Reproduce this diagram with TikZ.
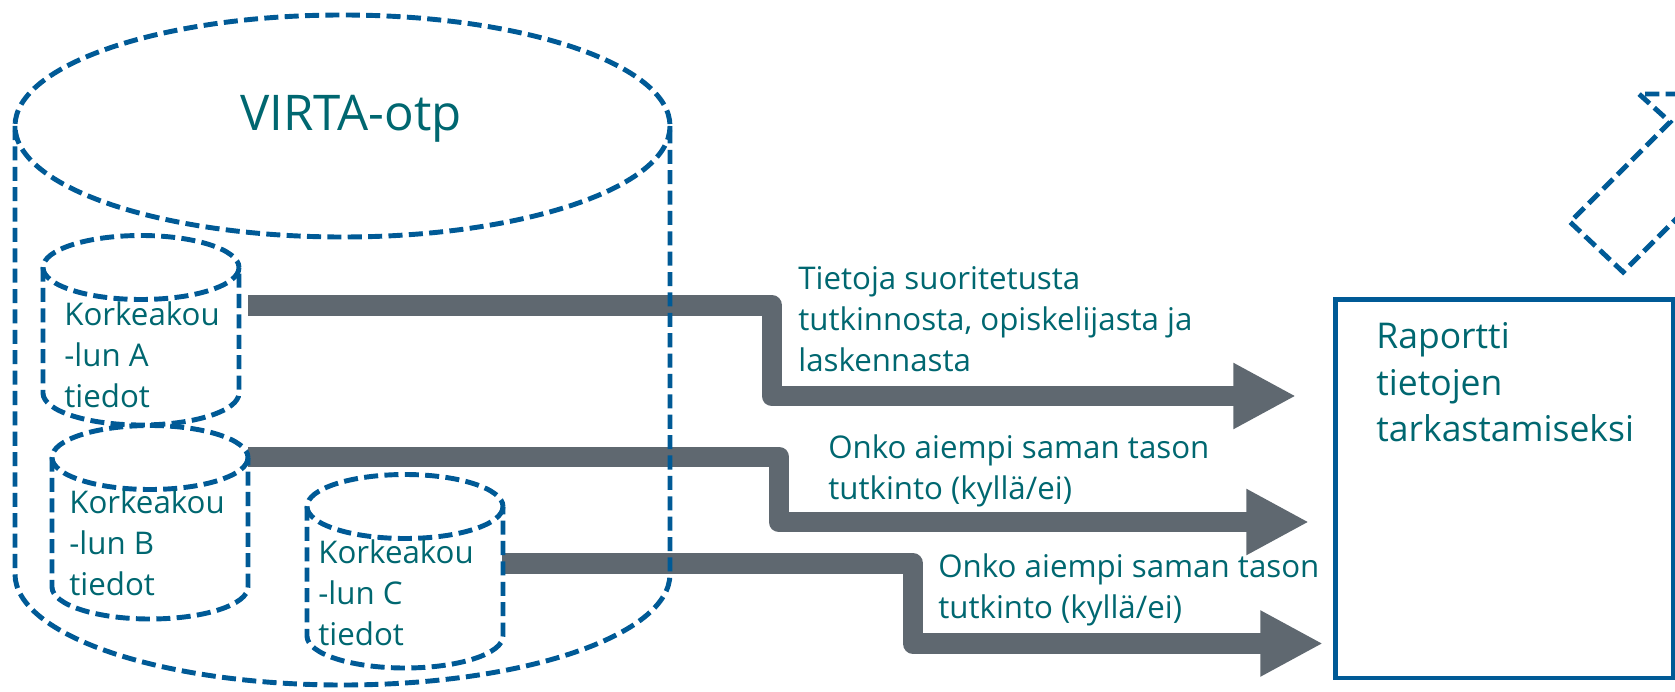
\documentclass[tikz,border=0pt]{standalone}
\usepackage{fontspec}
\setmainfont{Open Sans}
\usetikzlibrary{arrows.meta}
\definecolor{virtaBlue}{RGB}{0,90,150}
\definecolor{virtaTeal}{RGB}{0,103,112}
\definecolor{flowGray}{RGB}{95,104,112}
\begin{document}
\begin{tikzpicture}[x=0.02cm, y=-0.02cm,
    dbStyle/.style={draw=virtaBlue, line width=2.8pt, dash pattern=on 8pt off 3.6pt},
    flowStyle/.style={draw=flowGray, line width=11.9pt, line join=round, -{Triangle[length=35.7pt, width=35.1pt]}},
    textStyle/.style={anchor=north west, inner sep=0pt, align=left, text=virtaTeal, font=\fontsize{17.8}{23.5}\selectfont},
    reportStyle/.style={draw=virtaBlue, line width=2.5pt, anchor=north west, minimum width=6.748cm, minimum height=7.568cm}]
    \useasboundingbox (0,0) rectangle (1675,692);
    \clip (0,0) rectangle (1675,692);

    % flows
    \coordinate (A_out) at (248,305.5);
    \coordinate (A_tip) at (1296,396);
    \coordinate (B_out) at (248,457);
    \coordinate (B_tip) at (1309,522);
    \coordinate (C_out) at (502,563.5);
    \coordinate (C_tip) at (1323,643.5);

    \draw[flowStyle] (A_out) -| (772,396) -- (A_tip);
    \draw[flowStyle] (B_out) -| (779,522) -- (B_tip);
    \draw[flowStyle] (C_out) -| (913,643.5) -- (C_tip);

    % VIRTA database
    \draw[dbStyle] (342.5,126) ellipse[x radius=327.5, y radius=111];
    \draw[dbStyle] (15,126) -- (15,574) arc[start angle=180, end angle=0, x radius=327.5, y radius=111] -- (670,126);
    \node[anchor=base west, inner sep=0pt, text=virtaTeal, font=\fontsize{28}{34}\selectfont] (virta) at (240,131) {VIRTA-otp};

    % schools
    \foreach \db/\cx/\ty/\by in {A/141/267.5/393, B/150/457.5/587, C/405/506.5/636} {
        \draw[dbStyle] (\cx,\ty) ellipse[x radius=98, y radius=32];
        \draw[dbStyle] (\cx-98,\ty) -- (\cx-98,\by) arc[start angle=180, end angle=0, x radius=98, y radius=32] -- (\cx+98,\ty);
    }
    \node[textStyle] (lbl_A) at (64,301) {Korkeakou\\-lun A\\tiedot};
    \node[textStyle] (lbl_B) at (69,489) {Korkeakou\\-lun B\\tiedot};
    \node[textStyle] (lbl_C) at (318,539) {Korkeakou\\-lun C\\tiedot};

    % flow labels
    \node[textStyle] (lbl_info) at (798,266) {Tietoja suoritetusta\\tutkinnosta, opiskelijasta ja\\laskennasta};
    \node[textStyle] (lbl_prevB) at (828,434) {Onko aiempi saman tason\\tutkinto (kyllä/ei)};
    \node[textStyle] (lbl_prevC) at (938,553) {Onko aiempi saman tason\\tutkinto (kyllä/ei)};

    % report
    \node[reportStyle] (report) at (1333.3,297.3) {};
    \node[textStyle, font=\fontsize{20.2}{26.4}\selectfont] (lbl_report) at (1376,322.5) {Raportti\\tietojen\\tarkastamiseksi};

    % partly shown icon
    \draw[dbStyle] (1700,94) -- (1639,94) -- (1670,122) -- (1570,222) -- (1623,272) -- (1700,195);
\end{tikzpicture}
\end{document}
